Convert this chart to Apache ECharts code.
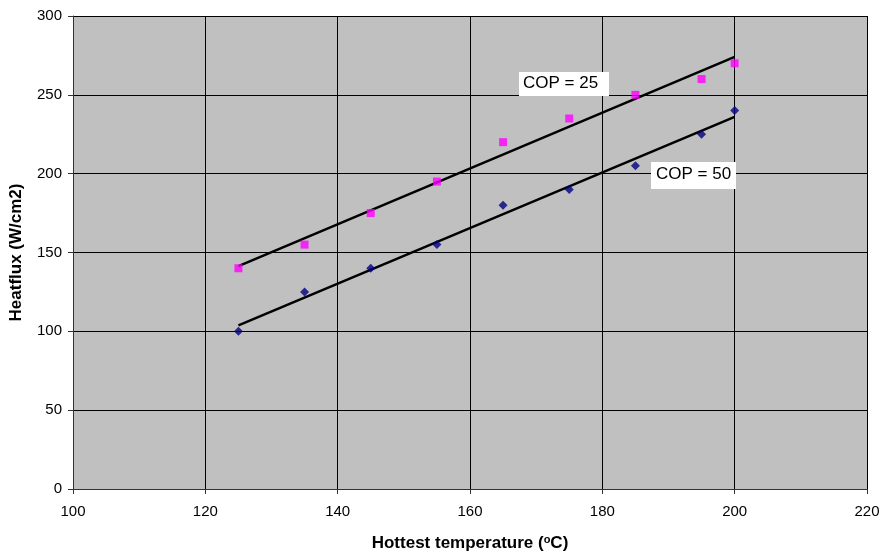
<!DOCTYPE html>
<html><head><meta charset="utf-8">
<script src="https://cdn.jsdelivr.net/npm/echarts@6/dist/echarts.min.js"></script>
<style>html,body{margin:0;padding:0;background:#fff}#c{width:882px;height:554px}</style>
</head><body><div id="c"></div>
<script>
var temps = [125, 135, 145, 155, 165, 175, 185, 195, 200];
var cop25 = [140, 155, 175, 195, 220, 235, 250, 260, 270];
var cop50 = [100, 125, 140, 155, 180, 190, 205, 225, 240];
var trend25X = [125, 200];
var trend25Y = [141.3, 274.1];
var trend50X = [125, 200];
var trend50Y = [103.8, 236.0];
var xTicks = [100, 120, 140, 160, 180, 200, 220];
var yTicks = [0, 50, 100, 150, 200, 250, 300];
var labels = ['COP = 25', 'COP = 50'];

function pairs(xs, ys){ return xs.map(function(x,i){ return [x, ys[i]]; }); }

var chart = echarts.init(document.getElementById('c'), null, {renderer:'canvas'});
var font = 'Arial, "Liberation Sans", sans-serif';
chart.setOption({
  animation: false,
  backgroundColor: '#ffffff',
  grid: {left: 73, right: 15, top: 16, bottom: 65, show: true, backgroundColor: '#c0c0c0', borderWidth: 0,
         containLabel: false, outerBoundsMode: 'none'},
  xAxis: {
    type: 'value', min: xTicks[0], max: xTicks[xTicks.length-1], interval: 20,
    name: 'Hottest temperature ({sup|o}C)', nameLocation: 'middle', nameGap: 45,
    nameTextStyle: {fontFamily: font, fontSize: 17, fontWeight: 'bold', color: '#000',
      rich: {sup: {fontFamily: font, fontSize: 11, fontWeight: 'bold', color: '#000', verticalAlign: 'top', padding:[0,0,8,0]}}},
    axisLine: {show: true, lineStyle: {color: '#333', width: 1}},
    axisTick: {show: true, length: 5, inside: false, lineStyle: {color: '#333'}},
    axisLabel: {fontFamily: font, fontSize: 15, color: '#000', margin: 15},
    splitLine: {show: true, lineStyle: {color: '#000', width: 1}}
  },
  yAxis: {
    type: 'value', min: yTicks[0], max: yTicks[yTicks.length-1], interval: 50,
    name: 'Heatflux (W/cm2)', nameLocation: 'middle', nameGap: 48,
    nameTextStyle: {fontFamily: font, fontSize: 17, fontWeight: 'bold', color: '#000'},
    axisLine: {show: true, lineStyle: {color: '#333', width: 1}},
    axisTick: {show: true, length: 5, inside: false, lineStyle: {color: '#333'}},
    axisLabel: {fontFamily: font, fontSize: 15, color: '#000', margin: 11},
    splitLine: {show: true, lineStyle: {color: '#000', width: 1}}
  },
  series: [
    {type: 'line', data: pairs(trend25X, trend25Y), symbol: 'none', lineStyle: {color: '#000', width: 2.5}, z: 2},
    {type: 'line', data: pairs(trend50X, trend50Y), symbol: 'none', lineStyle: {color: '#000', width: 2.5}, z: 2},
    {type: 'scatter', data: pairs(temps, cop25), symbol: 'rect', symbolSize: 8, itemStyle: {color: '#ff00ff'}, z: 3},
    {type: 'scatter', data: pairs(temps, cop50), symbol: 'diamond', symbolSize: 9, itemStyle: {color: '#000080'}, z: 3}
  ],
  graphic: [
    {type: 'rect', left: 519, top: 72, shape: {width: 90, height: 24}, style: {fill: '#fff'}, z: 10},
    {type: 'text', left: 523, top: 75, style: {text: labels[0], font: '17px Arial, "Liberation Sans", sans-serif', fill: '#000'}, z: 11},
    {type: 'rect', left: 651, top: 162, shape: {width: 85, height: 27}, style: {fill: '#fff'}, z: 10},
    {type: 'text', left: 656, top: 166, style: {text: labels[1], font: '17px Arial, "Liberation Sans", sans-serif', fill: '#000'}, z: 11}
  ]
});
</script></body></html>
